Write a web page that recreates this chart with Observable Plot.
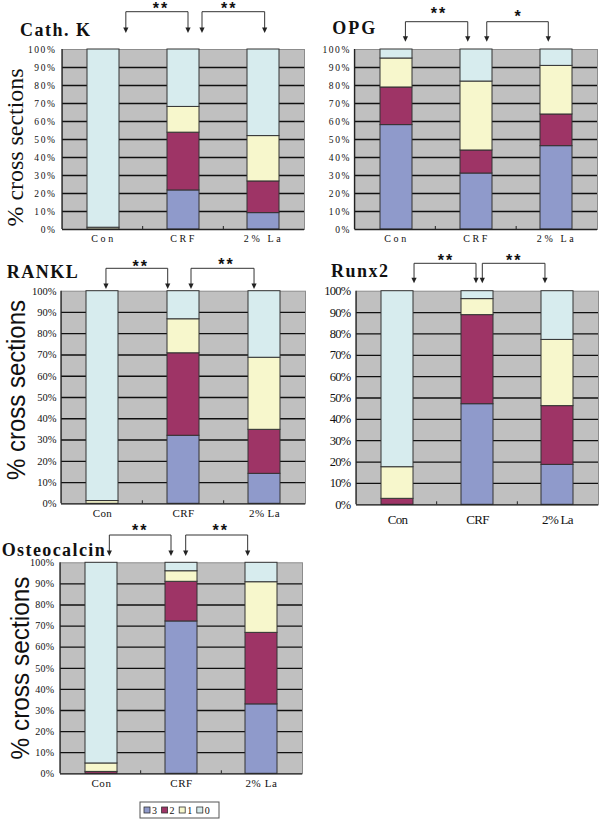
<!DOCTYPE html>
<html><head><meta charset="utf-8">
<script src="https://cdn.jsdelivr.net/npm/d3@7"></script>
<script src="https://cdn.jsdelivr.net/npm/@observablehq/plot@0.6"></script>
<style>
body{margin:0;background:#fff;}
#root{position:relative;width:600px;height:820px;overflow:hidden;background:#fff;}
.panel{position:absolute;}
.panel svg{overflow:visible;}
</style></head><body><div id="root"></div>
<script>
// ---- data ----
const categories = ["Con", "CRF", "2% La"];
const levels = ["3", "2", "1", "0"];
const levelColors = ["#8f9acb", "#9e3466", "#f7f7cc", "#d7ecee"];
const yTicks = [0, 10, 20, 30, 40, 50, 60, 70, 80, 90, 100];
const comparisons = [["Con", "CRF"], ["CRF", "2% La"]];

// per score level, values for Con, CRF, 2% La (percent of cross sections)
const cathK_3 = [0, 21.7, 9.1];
const cathK_2 = [0, 32.1, 17.6];
const cathK_1 = [1, 14.3, 25.2];
const cathK_0 = [99, 31.9, 48.1];
const cathK_sig = ["**", "**"];

const opg_3 = [58, 31.1, 46.3];
const opg_2 = [20.9, 12.8, 17.6];
const opg_1 = [16.1, 38.3, 27];
const opg_0 = [5, 17.8, 9.1];
const opg_sig = ["**", "*"];

const rankl_3 = [0, 32, 14.1];
const rankl_2 = [0, 38.8, 20.7];
const rankl_1 = [1.3, 16, 33.9];
const rankl_0 = [98.7, 13.2, 31.3];
const rankl_sig = ["**", "**"];

const runx2_3 = [0, 47.1, 18.7];
const runx2_2 = [2.8, 41.7, 27.5];
const runx2_1 = [14.8, 7.5, 31];
const runx2_0 = [82.4, 3.7, 22.8];
const runx2_sig = ["**", "**"];

const ocn_3 = [0, 72.2, 32.9];
const ocn_2 = [0.9, 18.8, 33.9];
const ocn_1 = [4, 5, 24];
const ocn_0 = [95.1, 4, 9.2];
const ocn_sig = ["**", "**"];

const yTitle = "% cross sections";

// ---- drawing ----
const root = document.getElementById("root");

function drawPanel(cfg) {
  const rows = [];
  categories.forEach((c, i) => cfg.series.forEach((s, j) => {
    if (s[i] > 0) rows.push({cat: c, level: levels[j], value: s[i]});
  }));
  const plot = Plot.plot({
    width: cfg.w, height: cfg.h,
    marginLeft: cfg.ml, marginRight: cfg.mr, marginTop: cfg.mt, marginBottom: cfg.mb,
    style: {background: "transparent", overflow: "visible", fontFamily: "'Liberation Serif', serif", fontSize: "10px", color: "#111"},
    x: {type: "band", domain: categories, paddingInner: 0.605, paddingOuter: 0.3025, align: 0.5, axis: null},
    y: {domain: [0, 100], axis: null},
    color: {domain: levels, range: levelColors},
    marks: [
      Plot.frame({fill: "#c0c0c0", stroke: "#8c8c8c"}),
      Plot.ruleY(yTicks.filter(t => t > 0 && t < 100), {stroke: "#111", strokeWidth: 1.3}),
      Plot.barY(rows, {x: "cat", y: "value", fill: "level", stroke: "#333", strokeWidth: 1}),
      Plot.ruleY([0], {stroke: "#222", strokeWidth: 1.3}),
      Plot.text(yTicks, {y: d => d, text: d => d + "%", frameAnchor: "left", textAnchor: "end", dx: -cfg.yGap, fontSize: cfg.yFont, fill: "#111"}),
      Plot.text(categories, {x: d => d, text: d => d, frameAnchor: "bottom", dy: cfg.xDy, fontSize: cfg.xFont, fill: "#111"})
    ]
  });
  const svg = d3.select(plot);
  const tg = svg.selectAll("g[aria-label='text']").nodes();
  if (tg[0]) d3.select(tg[0]).style("letter-spacing", cfg.yLs + "px");
  if (tg[1]) d3.select(tg[1]).style("letter-spacing", cfg.xLs + "px");

  const xs = plot.scale("x"), ys = plot.scale("y");
  const [r0, r1] = xs.range;
  const step = (r1 - r0) / categories.length;
  const cx = c => r0 + step * (categories.indexOf(c) + 0.5);
  const yTop = ys.apply(100), yBot = ys.apply(0);

  // left axis line and category boundary ticks
  svg.append("line").attr("x1", r0).attr("x2", r0).attr("y1", yTop).attr("y2", yBot)
    .attr("stroke", "#222").attr("stroke-width", 1.3);
  for (let k = 1; k < categories.length; k++) {
    svg.append("line").attr("x1", r0 + step * k).attr("x2", r0 + step * k)
      .attr("y1", yBot).attr("y2", yBot - 3).attr("stroke", "#222");
  }

  // significance brackets
  comparisons.forEach((pair, k) => {
    const o = cfg.brk[k];
    const x1 = cx(pair[0]) + o[0], x2 = cx(pair[1]) + o[1];
    const g = svg.append("g");
    g.append("path").attr("fill", "none").attr("stroke", "#333").attr("stroke-width", 1)
      .attr("d", `M${x1},${cfg.tip - 4}V${cfg.top}H${x2}V${cfg.tip - 4}`);
    [x1, x2].forEach(x => g.append("path").attr("fill", "#222")
      .attr("d", `M${x - 2.6},${cfg.tip - 5.5}L${x + 2.6},${cfg.tip - 5.5}L${x},${cfg.tip}Z`));
    svg.append("text").attr("x", (x1 + x2) / 2 + o[2]).attr("y", cfg.starY + (o[3] || 0))
      .attr("text-anchor", "middle").attr("font-family", "'Liberation Sans', sans-serif")
      .attr("font-weight", "bold").attr("font-size", 16).style("letter-spacing", "2px")
      .attr("fill", "#111").text(cfg.sig[k]);
  });

  // panel title
  svg.append("text").attr("x", cfg.tx).attr("y", cfg.ty).attr("text-anchor", "start")
    .attr("font-family", "'Liberation Serif', serif").attr("font-weight", "bold")
    .attr("font-size", cfg.tSize).attr("textLength", cfg.tLen).attr("lengthAdjust", "spacing")
    .style("letter-spacing", "0px").attr("fill", "#111").text(cfg.title);

  // y title
  if (cfg.yt) {
    svg.append("text").attr("transform", `translate(${cfg.yt.x},${cfg.yt.y}) rotate(-90)`)
      .attr("text-anchor", "middle").attr("font-family", cfg.yt.family)
      .attr("font-size", cfg.yt.size).style("letter-spacing", "0px")
      .attr("textLength", cfg.yt.len).attr("lengthAdjust", "spacingAndGlyphs")
      .attr("fill", "#111").text(yTitle);
  }

  // legend
  if (cfg.legend) {
    const L = cfg.legend;
    svg.append("rect").attr("x", L.x).attr("y", L.y).attr("width", L.w).attr("height", L.h)
      .attr("fill", "#fff").attr("stroke", "#555");
    levels.forEach((lv, i) => {
      const x = L.x + 4 + i * L.step;
      svg.append("rect").attr("x", x).attr("y", L.y + L.h / 2 - 3).attr("width", 6).attr("height", 6)
        .attr("fill", levelColors[i]).attr("stroke", "#333").attr("stroke-width", 0.8);
      svg.append("text").attr("x", x + 8).attr("y", L.y + L.h / 2 + 3.5).attr("text-anchor", "start")
        .attr("font-family", "'Liberation Serif', serif").attr("font-size", 10)
        .attr("fill", "#111").text(lv);
    });
  }

  const div = document.createElement("div");
  div.className = "panel";
  div.style.left = cfg.left + "px";
  div.style.top = cfg.topPos + "px";
  div.style.width = cfg.w + "px";
  div.style.height = cfg.h + "px";
  div.appendChild(plot);
  root.appendChild(div);
}

drawPanel({
  title: "Cath. K", series: [cathK_3, cathK_2, cathK_1, cathK_0], sig: cathK_sig,
  left: 0, topPos: 0, w: 310, h: 250, ml: 62, mr: 6, mt: 49, mb: 21,
  yGap: 6, yFont: 9.5, yLs: 1.6, xDy: 12, xFont: 10, xLs: 2.6,
  top: 11.7, tip: 33, starY: 14, brk: [[23.5, 5, 4], [19, 1, -4]],
  tx: 20, ty: 36, tSize: 18, tLen: 70,
  yt: {x: 22.5, y: 147.5, size: 23.5, family: "'Liberation Serif', serif", len: 158}
});
drawPanel({
  title: "OPG", series: [opg_3, opg_2, opg_1, opg_0], sig: opg_sig,
  left: 310, topPos: 0, w: 290, h: 250, ml: 44.5, mr: 3, mt: 49, mb: 21,
  yGap: 4, yFont: 9.5, yLs: 1.6, xDy: 12, xFont: 10, xLs: 2.6,
  top: 21.7, tip: 41.7, starY: 19, brk: [[10.5, -8, 2.5], [11, -8.3, 1, 3]],
  tx: 22.3, ty: 34.3, tSize: 18, tLen: 43
});
drawPanel({
  title: "RANKL", series: [rankl_3, rankl_2, rankl_1, rankl_0], sig: rankl_sig,
  left: 0, topPos: 250, w: 310, h: 280, ml: 61, mr: 5, mt: 40.7, mb: 26.7,
  yGap: 5, yFont: 10.5, yLs: 0, xDy: 13.4, xFont: 11, xLs: 0.4,
  top: 18.3, tip: 39, starY: 21.5, brk: [[4.3, -15.3, 4], [8, -10.3, 4, -2]],
  tx: 6.7, ty: 28.3, tSize: 18, tLen: 71,
  yt: {x: 25, y: 140, size: 25, family: "'Liberation Sans', sans-serif", len: 180}
});
drawPanel({
  title: "Runx2", series: [runx2_3, runx2_2, runx2_1, runx2_0], sig: runx2_sig,
  left: 310, topPos: 250, w: 290, h: 280, ml: 46, mr: 2, mt: 40.7, mb: 25.7,
  yGap: 6, yFont: 12.5, yLs: -0.7, xDy: 18.7, xFont: 13, xLs: -0.7,
  top: 13.3, tip: 33.3, starY: 16, brk: [[17.7, -1, 1], [5.3, -12.7, 0.5]],
  tx: 21, ty: 26.7, tSize: 18, tLen: 57
});
drawPanel({
  title: "Osteocalcin", series: [ocn_3, ocn_2, ocn_1, ocn_0], sig: ocn_sig,
  left: 0, topPos: 530, w: 310, h: 290, ml: 60, mr: 8, mt: 32.3, mb: 46.7,
  yGap: 6, yFont: 10, yLs: 0.3, xDy: 13.4, xFont: 11, xLs: 0.6,
  top: 5, tip: 26, starY: 6, brk: [[9, -10, 0], [4.7, -14, 4]],
  tx: 1.7, ty: 26, tSize: 18, tLen: 103,
  yt: {x: 29, y: 138, size: 25, family: "'Liberation Sans', sans-serif", len: 183},
  legend: {x: 140, y: 272, w: 79, h: 16, step: 17.6}
});
</script>
</body></html>
